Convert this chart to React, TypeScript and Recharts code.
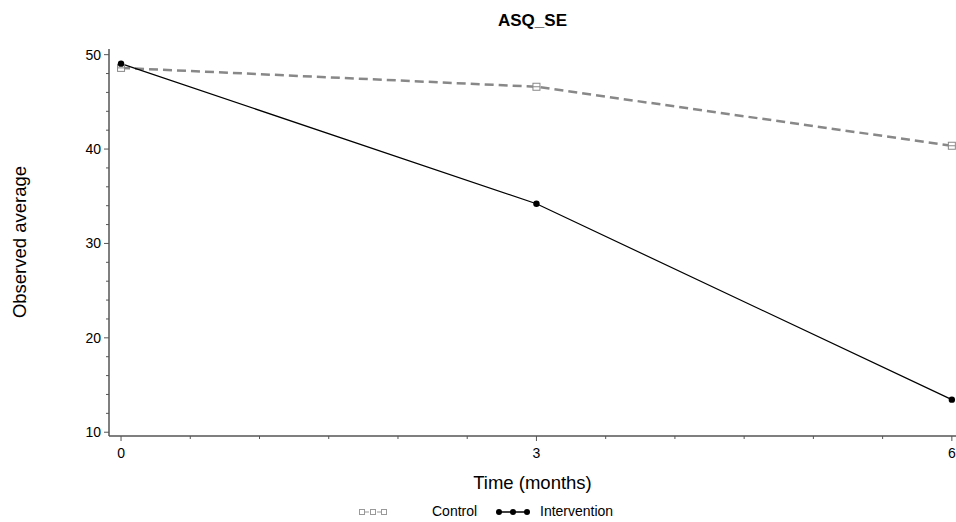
import { LineChart, Line, XAxis, YAxis } from "recharts";

const TIMES = [0, 3, 6];
const CONTROL = [48.6, 46.6, 40.35];
const INTERVENTION = [49.05, 34.2, 13.45];
const Y_TICKS = [10, 12, 14, 16, 18, 20, 22, 24, 26, 28, 30, 32, 34, 36, 38, 40, 42, 44, 46, 48, 50];
const X_TICKS = [0, 0.5, 1, 1.5, 2, 2.5, 3, 3.5, 4, 4.5, 5, 5.5, 6];

const AXIS = "#555";
const FONT = "'Liberation Sans', Arial, sans-serif";

const data = TIMES.map((t, i) => ({ time: t, control: CONTROL[i], intervention: INTERVENTION[i] }));

function YTick({ x, y, payload }: any) {
  const major = payload.value % 10 === 0;
  return (
    <g>
      <line x1={x} x2={x - (major ? 5 : 3)} y1={y} y2={y} stroke={AXIS} strokeWidth={1} />
      {major && (
        <text x={x - 8} y={y} dy={5} textAnchor="end" fontSize={14} fill="#000" fontFamily={FONT}>
          {payload.value}
        </text>
      )}
    </g>
  );
}

function XTick({ x, y, payload }: any) {
  const major = payload.value % 3 === 0;
  return (
    <g>
      <line x1={x} x2={x} y1={y} y2={y + (major ? 5 : 3)} stroke={AXIS} strokeWidth={1} />
      {major && (
        <text x={x} y={y + 22} textAnchor="middle" fontSize={14} fill="#000" fontFamily={FONT}>
          {payload.value}
        </text>
      )}
    </g>
  );
}

function ControlDot({ cx, cy }: any) {
  return (
    <g>
      <rect x={cx - 3.5} y={cy - 3.5} width={7} height={7} fill="#fff" stroke="#888" strokeWidth={1} />
      <line x1={cx - 3.5} x2={cx + 3.5} y1={cy} y2={cy} stroke="#888" strokeWidth={1} />
    </g>
  );
}

export default function App() {
  return (
    <div style={{ position: "absolute", left: 0, top: 0, width: 956, height: 522, fontFamily: FONT, background: "#fff" }}>
      <div style={{ position: "absolute", left: 109, width: 847, top: 11, textAlign: "center", fontSize: 17, fontWeight: "bold" }}>
        ASQ_SE
      </div>
      <div
        style={{
          position: "absolute", left: 20, top: 242, fontSize: 18.5, whiteSpace: "nowrap",
          transform: "translate(-50%, -50%) rotate(-90deg)",
        }}
      >
        Observed average
      </div>
      <div style={{ position: "absolute", left: 109, width: 847, top: 472, textAlign: "center", fontSize: 18.5 }}>
        Time (months)
      </div>
      <svg style={{ position: "absolute", left: 357, top: 505 }} width={34} height={14}>
        <line x1={2} x2={30} y1={7} y2={7} stroke="#999" strokeWidth={1.2} strokeDasharray="4 2" />
        {[5, 16, 27].map(cx => (
          <rect key={cx} x={cx - 2.5} y={4.5} width={5} height={5} fill="#fff" stroke="#999" strokeWidth={1} />
        ))}
      </svg>
      <div style={{ position: "absolute", left: 432, top: 503, fontSize: 14 }}>Control</div>
      <svg style={{ position: "absolute", left: 494, top: 505 }} width={40} height={14}>
        <line x1={4} x2={34} y1={7} y2={7} stroke="#000" strokeWidth={1.5} />
        {[5, 19, 33].map(cx => (
          <circle key={cx} cx={cx} cy={7} r={3} fill="#000" />
        ))}
      </svg>
      <div style={{ position: "absolute", left: 540, top: 503, fontSize: 14 }}>Intervention</div>
      <LineChart width={956} height={522} data={data} margin={{ top: 49, right: 0, left: 0, bottom: 0 }}>
        <XAxis
          dataKey="time"
          type="number"
          domain={[-0.087, 6.03]}
          ticks={X_TICKS}
          interval={0}
          height={86}
          tickLine={false}
          tickSize={0}
          tickMargin={0}
          tick={<XTick />}
          axisLine={{ stroke: AXIS, strokeWidth: 1.5 }}
        />
        <XAxis
          xAxisId="top"
          orientation="top"
          dataKey="time"
          type="number"
          domain={[-0.087, 6.03]}
          height={0}
          tick={false}
          tickLine={false}
          axisLine={{ stroke: AXIS, strokeWidth: 1 }}
        />
        <YAxis
          type="number"
          domain={[9.6, 50.6]}
          ticks={Y_TICKS}
          interval={0}
          width={109}
          tickLine={false}
          tickSize={0}
          tickMargin={0}
          tick={<YTick />}
          axisLine={{ stroke: AXIS, strokeWidth: 1.5 }}
        />
        <Line
          dataKey="control"
          type="linear"
          stroke="#888"
          strokeWidth={2.5}
          strokeDasharray="9 5"
          dot={<ControlDot />}
          isAnimationActive={false}
        />
        <Line
          dataKey="intervention"
          type="linear"
          stroke="#000"
          strokeWidth={1.2}
          dot={{ r: 3.2, fill: "#000", stroke: "#000", strokeWidth: 0 }}
          isAnimationActive={false}
        />
      </LineChart>
    </div>
  );
}
